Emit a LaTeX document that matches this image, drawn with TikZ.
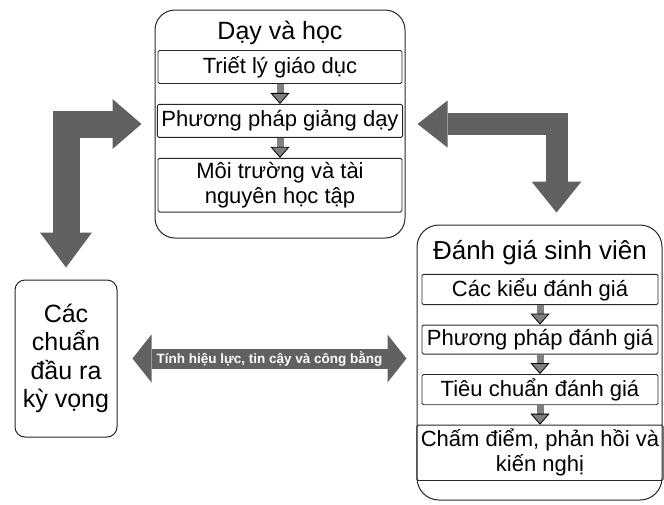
\documentclass[tikz,border=0pt]{standalone}
\usepackage{fontspec}
\setmainfont{Liberation Sans}
\usetikzlibrary{positioning}
\usetikzlibrary{arrows.meta}

\definecolor{arrowgray}{gray}{0.38}
\definecolor{tipgray}{gray}{0.5}

\begin{document}
\begin{tikzpicture}[x=1pt,y=-1pt,
            node distance = 20pt,
            group/.style = {draw=black!85,line width=1pt,rounded corners=20pt},
            item/.style 2 args = {draw=black!85,line width=0.9pt,rounded corners=1.5pt,
                align=center,font=\fontsize{22}{25}\selectfont,inner sep=4pt,
                minimum width=#1,minimum height=#2},
            heading/.style = {font=\fontsize{26}{28}\selectfont},
            flow/.style = {line width=7pt,draw=tipgray,
                -{Triangle[width=19pt,length=11pt,line width=0.8pt,color=black,fill=tipgray]}},
            bigarrow/.style = {line width=#1,draw=arrowgray,line join=miter}]
    \useasboundingbox (0,0) rectangle (664,504);

    % day va hoc
    \node[group,minimum width=250pt,minimum height=228pt] (teach) at (280,124) {};
    \node[heading,font=\fontsize{25}{28}\selectfont] (teachhead) at (280,33) {Dạy và học};
    \node[item={244pt}{33pt}] (t1) at (280,67) {Triết lý giáo dục};
    \node[item={244pt}{33pt},below=of t1] (t2) {Phương pháp giảng dạy};
    \node[item={244pt}{33pt},below=of t2] (t3) {Môi trường và tài\\nguyên học tập};

    % danh gia sinh vien
    \node[group,rounded corners=22pt,minimum width=245pt,minimum height=275pt] (assess) at (539.5,362.5) {};
    \node[heading] (assesshead) at (540,253) {Đánh giá sinh viên};
    \node[item={236pt}{29pt}] (c1) at (540,289.5) {Các kiểu đánh giá};
    \node[item={236pt}{29pt},below=19.5pt of c1] (c2) {Phương pháp đánh giá};
    \node[item={236pt}{29pt},below=19.5pt of c2] (c3) {Tiêu chuẩn đánh giá};
    \node[item={236pt}{29pt},below=19.5pt of c3] (c4) {Chấm điểm, phản hồi và\\kiến nghị};

    % chuan dau ra
    \node[group,rounded corners=10pt,minimum width=102pt,minimum height=157pt,
        align=center,font=\fontsize{25}{28.5}\selectfont] (goals) at (66,358.5)
        {Các\\chuẩn\\đầu ra\\kỳ vọng};

    \draw[flow] (t1) -- (t2);
    \draw[flow] (t2) -- (t3);
    \draw[flow] (c1) -- (c2);
    \draw[flow] (c2) -- (c3);
    \draw[flow] (c3) -- (c4);

    \draw[bigarrow=27pt,{Triangle[width=50pt,length=29pt,line width=0pt]}-{Triangle[width=52pt,length=35pt,line width=0pt]}]
        ([xshift=-13pt]teach.west) -| ([yshift=12pt]goals.north);
    \draw[bigarrow=22pt,{Triangle[width=47pt,length=30pt,line width=0pt]}-{Triangle[width=50pt,length=31pt,line width=0pt]}]
        ([xshift=12pt]teach.east) -| ([xshift=17pt,yshift=12pt]assess.north);
    \draw[bigarrow=20pt,{Triangle[width=48pt,length=19pt,line width=0pt]}-{Triangle[width=48pt,length=19pt,line width=0pt]}]
        ([xshift=15pt]goals.east) -- ([xshift=-10pt]goals.east -| assess.west)
        node[midway,text=white,font=\bfseries\fontsize{13.5}{15}\selectfont] (fair) {Tính hiệu lực, tin cậy và công bằng};
\end{tikzpicture}
\end{document}
